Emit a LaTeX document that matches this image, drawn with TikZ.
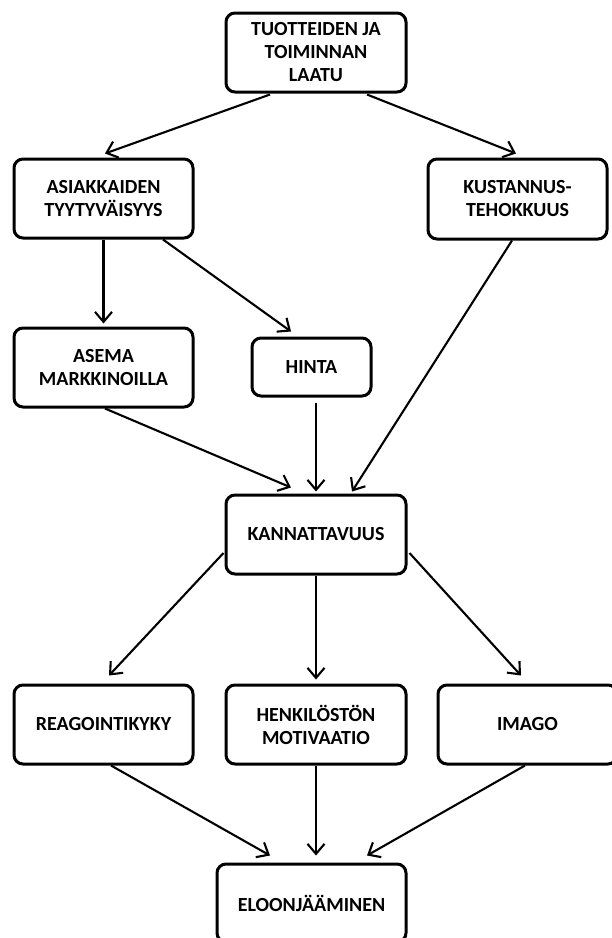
\documentclass[tikz,border=0pt]{standalone}
\usepackage{fontspec}
\setmainfont{Carlito}
\usetikzlibrary{arrows.meta,calc}
\begin{document}
\begin{tikzpicture}[x=1pt,y=-1pt,
  box/.style={draw=black,line width=3pt,rounded corners=9pt,fill=white,align=center,
    font=\fontsize{20}{23}\selectfont\bfseries,inner sep=0pt},
  arr/.style={line width=2.1pt,-{Straight Barb[length=10pt,width=17pt,line width=2.1pt]}}]
\useasboundingbox (0,0) rectangle (612,938);
\node[box,minimum width=180pt,minimum height=79pt] (top) at (316,52.5) {TUOTTEIDEN JA\\TOIMINNAN\\LAATU};
\node[box,minimum width=179pt,minimum height=79pt] (asiak) at (103.5,198.5) {ASIAKKAIDEN\\TYYTYVÄISYYS};
\node[box,minimum width=179pt,minimum height=80pt] (kust) at (517.5,199) {KUSTANNUS-\\TEHOKKUUS};
\node[box,minimum width=179pt,minimum height=79pt] (asema) at (103.5,367.5) {ASEMA\\MARKKINOILLA};
\node[box,minimum width=119pt,minimum height=58pt] (hinta) at (311.5,367) {HINTA};
\node[box,minimum width=180pt,minimum height=79pt] (kann) at (316,534.5) {KANNATTAVUUS};
\node[box,minimum width=179pt,minimum height=79pt] (reag) at (103.5,724.5) {REAGOINTIKYKY};
\node[box,minimum width=180pt,minimum height=79pt] (henk) at (316,724.5) {HENKILÖSTÖN\\MOTIVAATIO};
\node[box,minimum width=179pt,minimum height=79pt] (imago) at (527.5,724.5) {IMAGO};
\node[box,minimum width=189pt,minimum height=78pt] (eloon) at (311.5,903) {ELOONJÄÄMINEN};

\draw[arr] ($(top.south)+(-46,1)$) -- ($(asiak.north)+(1.5,-4)$);
\draw[arr] ($(top.south)+(51,1)$) -- ($(kust.north)+(-1.5,-4)$);
\draw[arr] (asiak.south) -- ($(asema.north)+(0,-3)$);
\draw[arr] ($(asiak.south)+(59.5,0)$) -- ($(hinta.north)+(-20.5,-5)$);
\draw[arr] ($(asema.south)+(1.5,0)$) -- ($(kann.north)+(-25,-6)$);
\draw[arr] ($(hinta.south)+(4.5,5)$) -- ($(kann.north)+(0,-2)$);
\draw[arr] ($(kust.south)+(-5.5,0)$) -- ($(kann.north)+(36,-2)$);
\draw[arr] ($(kann.west)+(-1,18.5)$) -- ($(reag.north)+(5.5,-8)$);
\draw[arr] (kann.south) -- ($(henk.north)+(0,-4)$);
\draw[arr] ($(kann.east)+(2,18.5)$) -- ($(imago.north)+(-6.5,-8)$);
\draw[arr] ($(reag.south)+(7.5,0)$) -- ($(eloon.north)+(-41.5,-7)$);
\draw[arr] (henk.south) -- ($(eloon.north)+(4.5,-7)$);
\draw[arr] ($(imago.south)+(-2.5,0)$) -- ($(eloon.north)+(55.5,-7)$);
\end{tikzpicture}
\end{document}
